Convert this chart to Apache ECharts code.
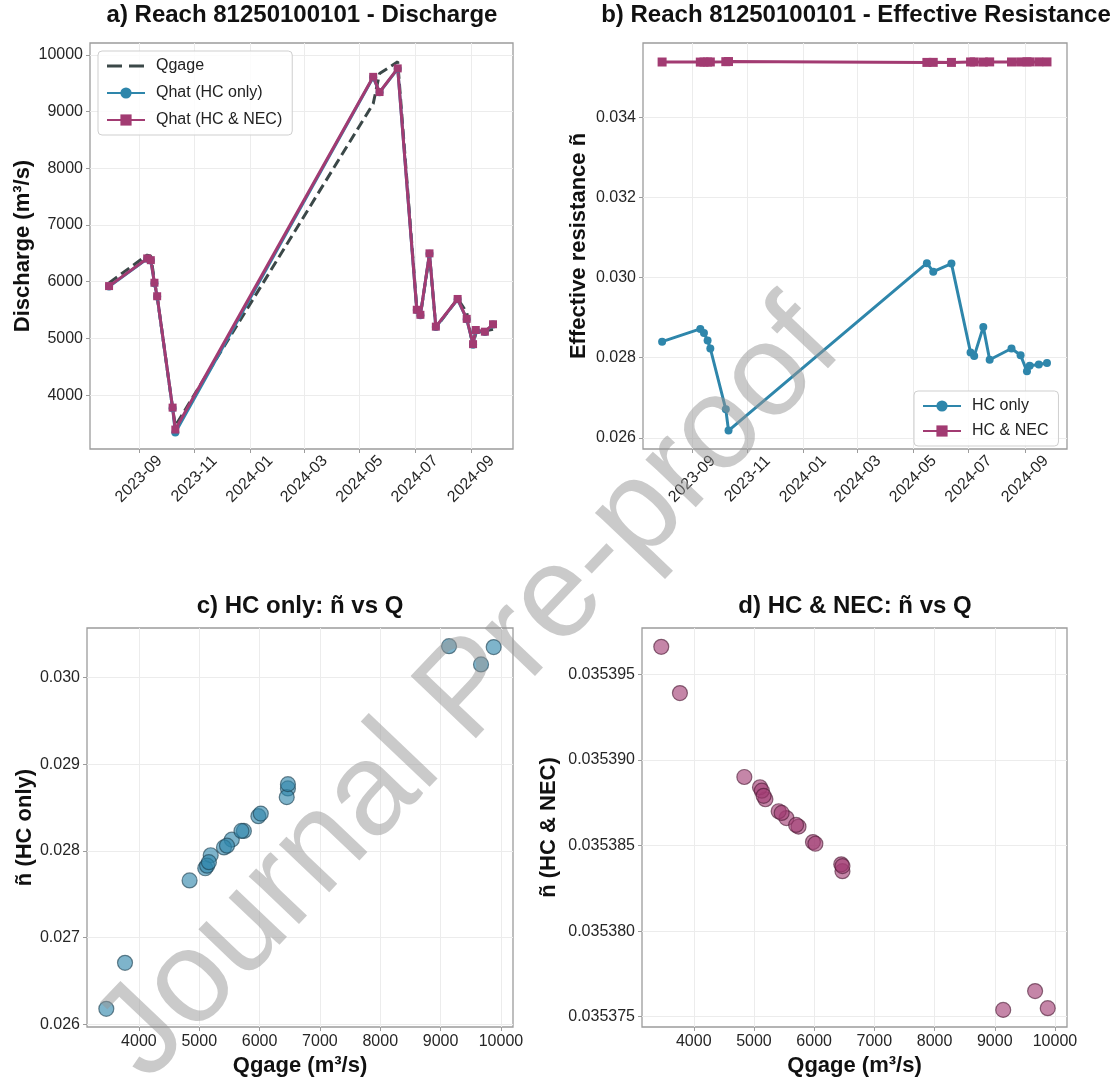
<!DOCTYPE html>
<html>
<head>
<meta charset="utf-8">
<script src="https://cdn.jsdelivr.net/npm/echarts@6/dist/echarts.min.js"></script>
<style>
  html, body { margin: 0; padding: 0; background: #fff; }
  #chart { width: 1120px; height: 1082px; }
</style>
</head>
<body>
<div id="chart"></div>
<script>
// observation dates (SWOT overpasses)
const dates = ['2023-07-30', '2023-09-10', '2023-09-14', '2023-09-18', '2023-09-21', '2023-10-08', '2023-10-11',
  '2024-05-16', '2024-05-23', '2024-06-12', '2024-07-03', '2024-07-07', '2024-07-17', '2024-07-24',
  '2024-08-17', '2024-08-27', '2024-09-03', '2024-09-06', '2024-09-16', '2024-09-25']

// discharge, m3/s
const qGage   = [5980, 6470, 6450, 6020, 5740, 3770, 3460, 9140, 9670, 9880, 5540, 5410, 6470, 5190, 5700, 5460, 4840, 5100, 5130, 5160]
const qHatHC  = [5915, 6405, 6375, 5975, 5740, 3770, 3340, 9605, 9340, 9755, 5500, 5410, 6495, 5200, 5690, 5340, 4890, 5140, 5115, 5245]
const qHatNEC = [5923, 6411, 6380, 5982, 5744, 3780, 3393, 9613, 9345, 9762, 5506, 5417, 6500, 5208, 5696, 5345, 4899, 5149, 5119, 5250]

// effective resistance
const nHC  = [0.02840, 0.02872, 0.02862, 0.02843, 0.02823, 0.02671, 0.02618, 0.03036, 0.03015, 0.03035,
  0.02813, 0.02804, 0.02877, 0.02795, 0.02823, 0.02806, 0.02766, 0.02780, 0.02783, 0.02787]
const nNEC = [0.0353852, 0.0353835, 0.0353839, 0.0353851, 0.0353861, 0.0353939, 0.0353966, 0.0353754, 0.0353765, 0.0353755,
  0.0353866, 0.0353870, 0.0353838, 0.0353877, 0.0353862, 0.0353869, 0.0353890, 0.0353884, 0.0353882, 0.0353879]

// tick labels
const monthTicks = ['2023-09', '2023-11', '2024-01', '2024-03', '2024-05', '2024-07', '2024-09']
const qTicks = [4000, 5000, 6000, 7000, 8000, 9000, 10000]
const nTicksB = [0.026, 0.028, 0.030, 0.032, 0.034]
const nTicksC = [0.026, 0.027, 0.028, 0.029, 0.030]
const nTicksD = [0.035375, 0.035380, 0.035385, 0.035390, 0.035395]

const FONT = '"Liberation Sans", Arial, Helvetica, sans-serif'
const C_HC = '#2E86AB'
const C_NEC = '#A23B72'
const C_GAGE = '#3b4848'
// two dashes for the Qgage legend entry (tiny corner dots keep the icon box 38x14)
const DASH_ICON = 'path://M0,0h0.05v0.05h-0.05z M0,5.5h15v3h-15z M22,5.5h15v3h-15z M37.95,13.95h0.05v0.05h-0.05z'

const ts = d => +new Date(d + 'T00:00:00')
const dateTs = dates.map(ts)
const monthTs = monthTicks.map(m => ts(m + '-01'))
const zip = (xs, ys) => xs.map((x, i) => [x, ys[i]])

const chart = echarts.init(document.getElementById('chart'), null, { renderer: 'canvas' })

function grid(left, top, width, height) {
  return { left, top, width, height, show: true, borderColor: '#9c9c9c', borderWidth: 1.3, backgroundColor: '#fff', outerBoundsMode: 'none', containLabel: false }
}

function axis(gridIndex, min, max, ticks, fmt, extra = {}) {
  const label = Object.assign({ customValues: ticks, formatter: fmt, color: '#262626', fontSize: 16, fontFamily: FONT, margin: 7 }, extra.label || {})
  return {
    gridIndex, type: 'value', min, max, scale: true,
    name: extra.name || '', nameLocation: 'middle', nameGap: extra.nameGap || 0,
    nameTextStyle: { fontSize: 22, fontWeight: 'bold', fontFamily: FONT, color: '#111' },
    axisLine: { show: false },
    axisTick: { show: true, length: 4, inside: false, customValues: ticks, lineStyle: { color: '#9c9c9c', width: 1 } },
    axisLabel: label,
    splitLine: { show: true, lineStyle: { color: '#ececec', width: 1 } },
  }
}

const dateFmt = v => monthTicks[monthTs.indexOf(v)] || ''
const dateLabel = { rotate: 45, align: 'center', verticalAlign: 'middle', margin: 30 }
const xMin = ts('2023-07-09'), xMax = ts('2024-10-17')

function titleAt(text, cx, top) {
  return { text, left: cx, top, textAlign: 'center', padding: 0, textStyle: { fontSize: 24, fontWeight: 'bold', fontFamily: FONT, color: '#111' } }
}

function legendBox(left, top, data, gap) {
  return {
    left, top, orient: 'vertical', data,
    itemWidth: 38, itemHeight: 14, itemGap: gap,
    padding: [7, 10, 7, 8],
    backgroundColor: 'rgba(255,255,255,0.85)', borderColor: '#cfcfcf', borderWidth: 1, borderRadius: 4,
    textStyle: { fontSize: 16, fontFamily: FONT, color: '#222', padding: [0, 0, 0, 6] },
  }
}

function lineSeries(name, xi, data, color, symbol, size) {
  return {
    name, type: 'line', xAxisIndex: xi, yAxisIndex: xi, data,
    symbol, symbolSize: size, showSymbol: true,
    lineStyle: { color, width: 3 }, itemStyle: { color },
    emphasis: { disabled: true }, z: 3,
  }
}

function scatterSeries(name, xi, data, color, edge) {
  return {
    name, type: 'scatter', xAxisIndex: xi, yAxisIndex: xi, data,
    symbolSize: 15,
    itemStyle: { color, opacity: 0.62, borderColor: edge, borderWidth: 1.2 },
    emphasis: { disabled: true },
  }
}

const option = {
  animation: false,
  backgroundColor: '#fff',
  textStyle: { fontFamily: FONT },
  title: [
    titleAt('a) Reach 81250100101 - Discharge', 302, 3),
    titleAt('b) Reach 81250100101 - Effective Resistance', 856, 3),
    titleAt('c) HC only: ñ vs Q', 300, 594),
    titleAt('d) HC & NEC: ñ vs Q', 855, 594),
  ],
  grid: [
    grid(90, 43, 423, 406),
    grid(643, 43, 424, 406),
    grid(87, 628, 426, 399),
    grid(642, 628, 425, 399),
  ],
  xAxis: [
    axis(0, xMin, xMax, monthTs, dateFmt, { label: dateLabel }),
    axis(1, xMin, xMax, monthTs, dateFmt, { label: dateLabel }),
    axis(2, 3140, 10200, qTicks, v => String(v), { name: 'Qgage (m³/s)', nameGap: 28 }),
    axis(3, 3140, 10200, qTicks, v => String(v), { name: 'Qgage (m³/s)', nameGap: 28 }),
  ],
  yAxis: [
    axis(0, 3050, 10210, qTicks, v => String(v), { name: 'Discharge (m³/s)', nameGap: 56 }),
    axis(1, 0.02572, 0.03586, nTicksB, v => v.toFixed(3), { name: 'Effective resistance ñ', nameGap: 53 }),
    axis(2, 0.02597, 0.03057, nTicksC, v => v.toFixed(3), { name: 'ñ (HC only)', nameGap: 49 }),
    axis(3, 0.0353744, 0.0353977, nTicksD, v => v.toFixed(6), { name: 'ñ (HC & NEC)', nameGap: 82 }),
  ],
  legend: [
    legendBox(98, 51, [{ name: 'Qgage', icon: DASH_ICON }, 'Qhat (HC only)', 'Qhat (HC & NEC)'], 11),
    legendBox(914, 391, ['HC only', 'HC & NEC'], 9),
  ],
  series: [
    {
      name: 'Qgage', type: 'line', xAxisIndex: 0, yAxisIndex: 0, data: zip(dateTs, qGage),
      symbol: 'none', lineStyle: { color: C_GAGE, width: 3, type: [10, 5] }, itemStyle: { color: C_GAGE },
      emphasis: { disabled: true }, z: 2,
    },
    lineSeries('Qhat (HC only)', 0, zip(dateTs, qHatHC), C_HC, 'circle', 8),
    lineSeries('Qhat (HC & NEC)', 0, zip(dateTs, qHatNEC), C_NEC, 'rect', 8),
    lineSeries('HC only', 1, zip(dateTs, nHC), C_HC, 'circle', 8),
    lineSeries('HC & NEC', 1, zip(dateTs, nNEC), C_NEC, 'rect', 9),
    scatterSeries('HC only scatter', 2, zip(qGage, nHC), C_HC, '#1d3f4f'),
    scatterSeries('HC & NEC scatter', 3, zip(qGage, nNEC), C_NEC, '#4a1a33'),
  ],
  graphic: [{
    type: 'text', x: 470, y: 692, rotation: 0.81, z: 50, silent: true,
    style: { text: 'Journal Pre-proof', font: '131px "Liberation Sans", Arial, sans-serif', fill: 'rgba(150,150,150,0.5)', textAlign: 'center', textVerticalAlign: 'middle' },
  }],
}

chart.setOption(option)
</script>
</body>
</html>
